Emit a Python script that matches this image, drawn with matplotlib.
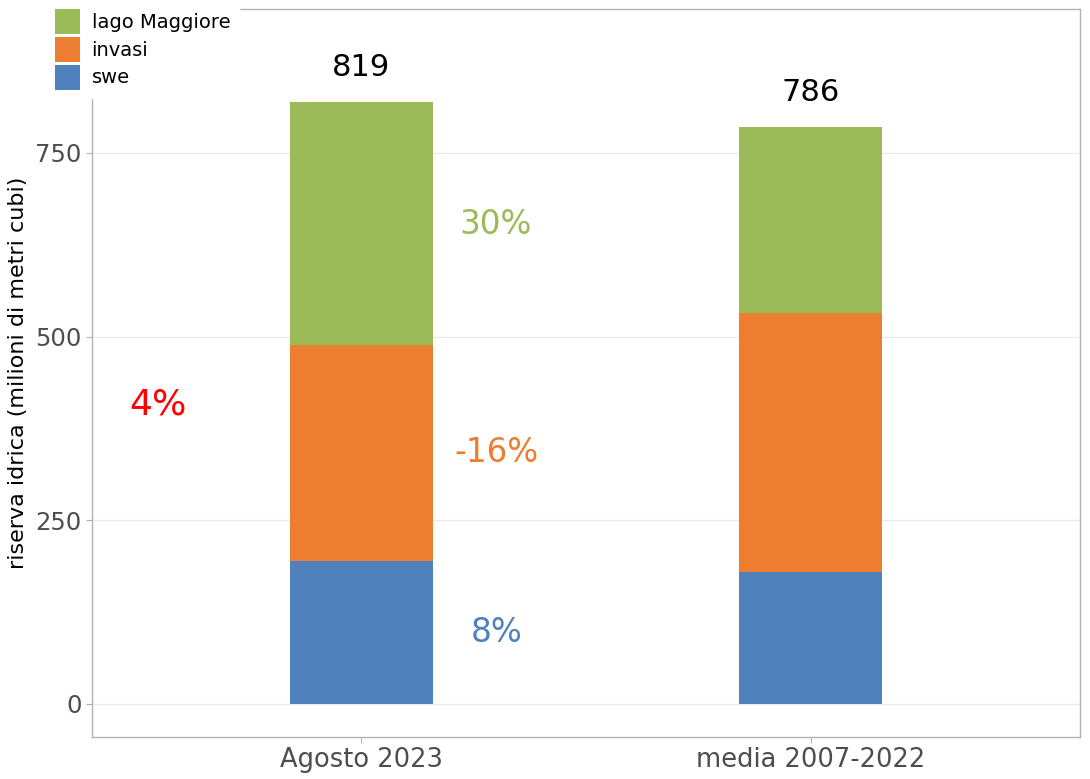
import matplotlib.pyplot as plt
import numpy as np

categorie = ["Agosto 2023", "media 2007-2022"]
serie = ["swe", "invasi", "lago Maggiore"]
swe = [195, 180]
invasi = [294, 352]
lago = [330, 254]
totali = ["819", "786"]
variazioni = ["8%", "-16%", "30%"]
variazione_totale = "4%"

colori = ["#4F81BD", "#ED7D31", "#9BBB59"]

fig = plt.figure(figsize=(10.9, 7.79), dpi=100)
ax = fig.add_axes([92 / 1090, 42 / 779, 988 / 1090, 728 / 779])

x = np.arange(1, len(categorie) + 1)
valori = [swe, invasi, lago]
base = np.zeros(len(categorie))
for nome, val, col in zip(serie, valori, colori):
    ax.bar(x, val, width=0.32, bottom=base, color=col, label=nome, zorder=2)
    base = base + np.array(val)

# totali sopra le barre
for xi, tot, lab in zip(x, base, totali):
    ax.text(xi, tot + 47, lab, ha="center", va="center", fontsize=22, color="black")

# variazioni percentuali
pos_y = [97, 342, 653]
for yv, lab, col in zip(pos_y, variazioni, colori):
    ax.text(1.30, yv, lab, ha="center", va="center", fontsize=23.5, color=col)
ax.text(0.547, 408, variazione_totale, ha="center", va="center", fontsize=26, color="red")

ax.set_xlim(0.4, 2.6)
ax.set_ylim(-45, 946)
ax.set_yticks([0, 250, 500, 750])
ax.set_xticks(x)
ax.set_xticklabels(categorie)
ax.tick_params(axis="both", colors="#B3B3B3", labelcolor="#4D4D4D", length=4)
ax.tick_params(axis="y", labelsize=17.5)
ax.tick_params(axis="x", labelsize=18.5)
ax.set_ylabel("riserva idrica (milioni di metri cubi)", fontsize=16, color="black")
ax.yaxis.set_label_coords(-64 / 988, 0.5)
ax.grid(axis="y", color="#EBEBEB", linewidth=1, zorder=0)
for s in ax.spines.values():
    s.set_color("#B3B3B3")
    s.set_linewidth(1)

h, l = ax.get_legend_handles_labels()
leg = fig.legend(h[::-1], l[::-1], loc="upper left", bbox_to_anchor=(46 / 1090, 1.0),
                 frameon=True, fontsize=14, handlelength=1.29, handleheight=1.6,
                 handletextpad=0.6, labelspacing=0.15, borderpad=0.45, borderaxespad=0)
leg.get_frame().set_edgecolor("white")
leg.get_frame().set_facecolor("white")
leg.get_frame().set_alpha(1)
leg.set_zorder(10)

fig.savefig("out.png", dpi=100)
